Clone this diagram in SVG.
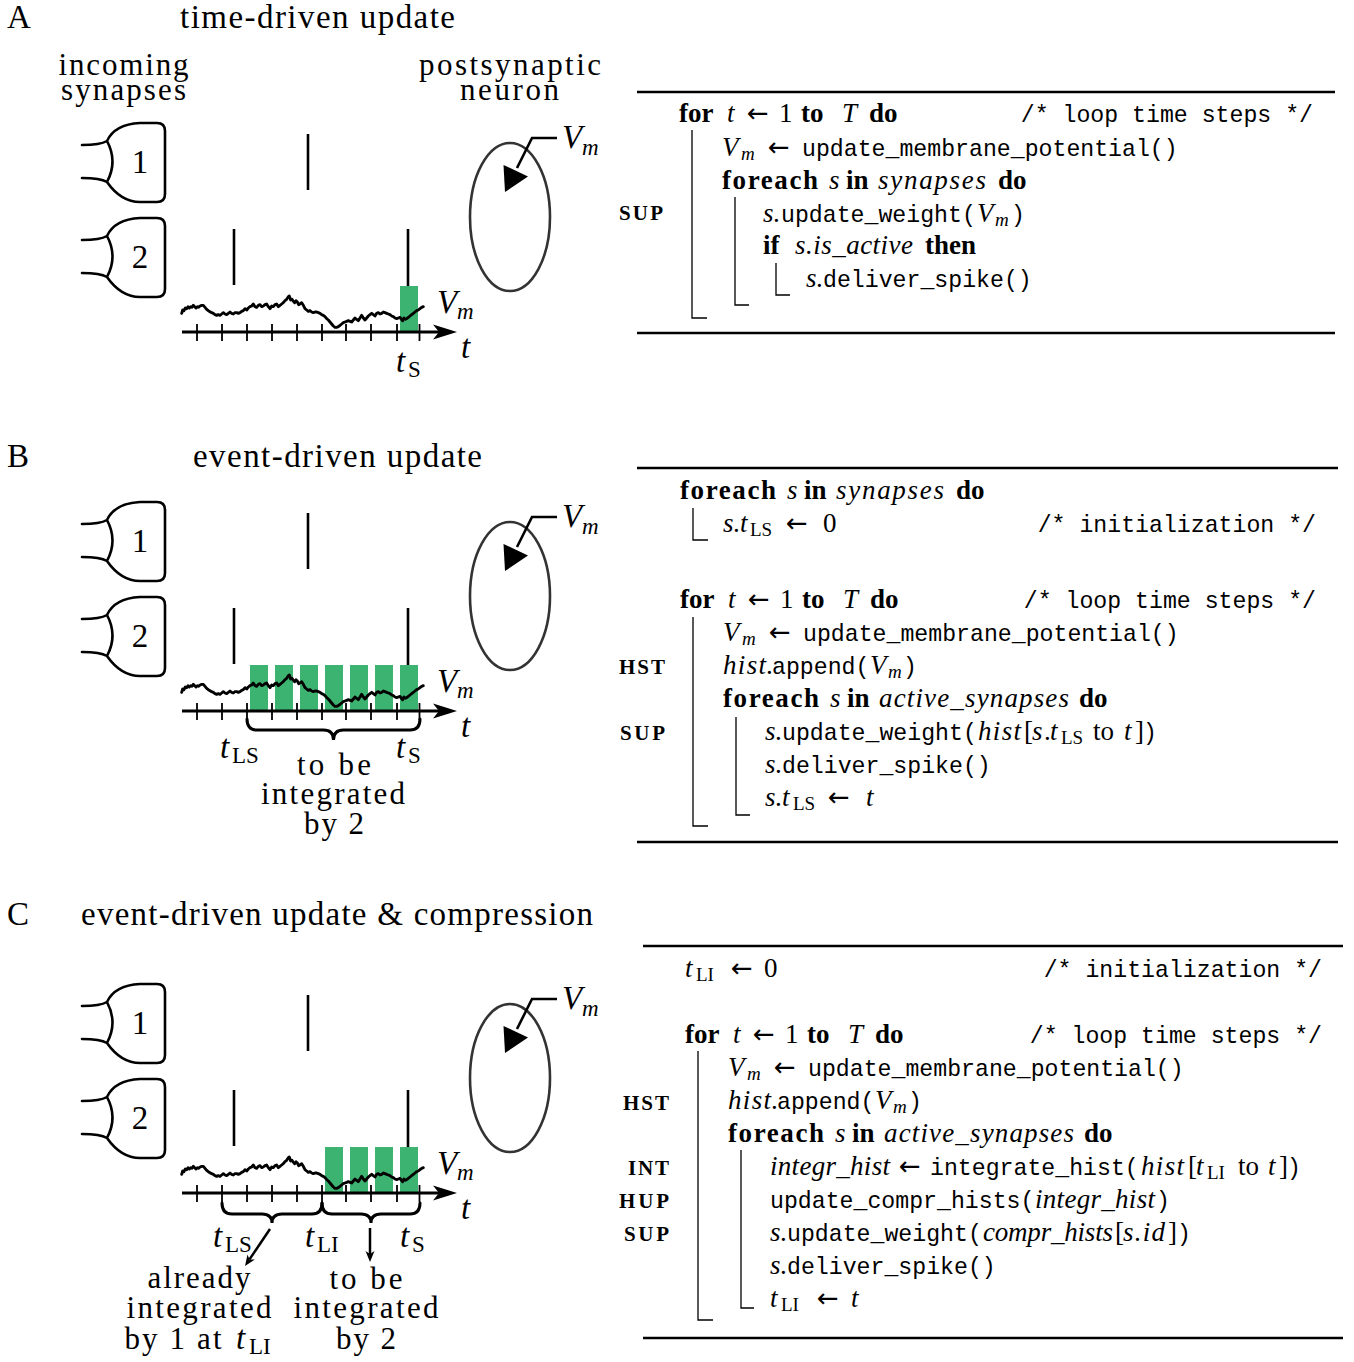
<svg xmlns="http://www.w3.org/2000/svg" xmlns:xlink="http://www.w3.org/1999/xlink" width="1354" height="1362" viewBox="0 0 1354 1362">
<style>
.s{fill:none;stroke:#000;stroke-width:2.6;stroke-linejoin:round;stroke-linecap:round}
.spk{stroke:#000;stroke-width:2.6}
.ax{stroke:#000;stroke-width:3}
.tk{fill:none;stroke:#000;stroke-width:1.8}
.bar{fill:#3cb371}
.tr{fill:none;stroke:#000;stroke-width:8.5;stroke-linejoin:round;stroke-linecap:round}
.cell{fill:none;stroke:#333;stroke-width:2.6}
.br{fill:none;stroke:#000;stroke-width:3;stroke-linecap:round}
.L{font-family:"Liberation Serif","DejaVu Serif",serif;font-size:33px;fill:#000}
.M{font-size:31px}
.i{font-style:italic}
.sb{font-size:23px}
.al{font-family:"Liberation Serif","DejaVu Serif",serif;font-size:27px;fill:#000}
.b{font-weight:bold}
.as{font-size:19px}
.ar{font-family:"DejaVu Sans",sans-serif;font-size:26px;font-style:normal;font-weight:normal}
.tt{font-family:"Liberation Mono","DejaVu Sans Mono",monospace;font-size:23.2px;font-style:normal;font-weight:normal}
.sc{font-family:"Liberation Serif","DejaVu Serif",serif;font-weight:bold;font-size:21px}
.rule{stroke:#000;stroke-width:2.4}
.bl{fill:none;stroke:#000;stroke-width:1.3}
</style>
<defs>
<path id="synp" d="M0,22 C10,22 20,21 25,18 C30,7 40,1 58,0 L75,0 Q83,0 83,8 L83,71 Q83,79 75,79 L58,79 C42,79 32,69 25,59 C20,56 10,55 0,55 M25,18 Q36,38.5 25,59"/>
<path id="trace" d="M35,100 L38,90 42,92 46,84 50,86 54,80 58,84 62,80 66,82 70,76 74,80 78,84 82,80 86,82 90,78 95,76 100,76 105,82 110,88 115,92 120,95 125,98 130,100 135,104 140,106 145,104 150,106 155,102 160,98 165,102 170,104 175,100 180,96 185,100 190,102 195,98 200,98 205,100 210,98 215,94 220,92 225,86 230,90 235,84 240,80 245,78 250,72 255,80 260,82 265,76 270,74 275,80 280,78 285,74 290,72 295,80 300,86 305,78 310,80 315,74 320,72 325,80 330,76 335,72 340,68 345,62 350,58 355,50 358,48 362,60 366,58 370,64 374,68 378,62 382,66 386,74 390,72 395,68 400,76 405,86 410,90 415,94 420,92 425,96 430,98 435,96 440,96 445,98 450,100 455,104 460,106 465,110 470,116 475,120 480,126 485,132 490,138 495,142 500,142 505,140 510,136 515,132 520,128 525,126 530,124 535,122 540,124 545,126 550,120 555,114 560,118 565,122 570,114 575,106 580,114 585,120 590,114 595,108 600,104 605,100 610,104 615,108 620,100 625,98 630,102 635,100 640,96 645,98 650,100 655,102 660,104 665,108 670,110 675,114 680,116 685,114 690,112 694,118 698,122 702,114 706,118 710,116 715,112 720,108 725,104 730,100 735,96 740,92 745,90 750,86 755,82 760,80"/>
<g id="left">
  <g id="syn1"><use xlink:href="#synp" href="#synp" class="s" transform="translate(82,123)"/><text class="L" x="140" y="173" text-anchor="middle">1</text></g>
  <g id="syn2"><use xlink:href="#synp" href="#synp" class="s" transform="translate(82,218)"/><text class="L" x="140" y="268" text-anchor="middle">2</text></g>
  <g id="spikes">
    <line class="spk" x1="308" y1="134" x2="308" y2="190"/>
    <line class="spk" x1="234" y1="229" x2="234" y2="285"/>
    <line class="spk" x1="408" y1="229" x2="408" y2="286"/>
  </g>
  <g id="trace-axis">
    <use xlink:href="#trace" href="#trace" class="tr" transform="translate(170,280) scale(0.33333)"/>
    <line class="ax" x1="182" y1="332" x2="440" y2="332"/>
    <path d="M457,332 L433,324.5 L439,332 L433,339.5 Z" fill="#000"/>
    <path class="tk" d="M197,324V341M222,324V341M247,324V341M272,324V341M297,324V341M322,324V341M346,324V341M371,324V341M397,324V341M419.5,324V341"/>
    <text class="L i" x="437" y="313">V</text><text class="L i sb" x="457" y="319">m</text>
    <text class="L i" x="461" y="358">t</text>
  </g>
  <g id="neuron">
    <ellipse class="cell" cx="510" cy="217" rx="40" ry="74"/>
    <polyline fill="none" stroke="#000" stroke-width="2.6" points="557,138 532,138 517,168"/>
    <polygon points="505,192 503.5,165 528,176.5" fill="#000"/>
    <text class="L i" x="562" y="148">V</text><text class="L i sb" x="582" y="155">m</text>
  </g>
</g>
</defs>

<!-- ================= Panel A ================= -->
<g id="panelA">
  <text class="L" x="7" y="28">A</text>
  <text class="L" x="180" y="28" textLength="275">time-driven update</text>
  <text class="L M" x="123.5" y="75" text-anchor="middle" textLength="130">incoming</text>
  <text class="L M" x="123.5" y="100" text-anchor="middle" textLength="125">synapses</text>
  <text class="L M" x="510" y="75" text-anchor="middle" textLength="182">postsynaptic</text>
  <text class="L M" x="509.5" y="100" text-anchor="middle" textLength="99">neuron</text>
  <rect class="bar" x="400" y="286" width="18" height="46"/>
  <use xlink:href="#left" href="#left"/>
  <text class="L i" x="396" y="372">t</text><text class="L sb" x="408" y="377">S</text>
</g>

<g id="algoA">
  <line class="rule" x1="637" y1="92" x2="1335" y2="92"/>
  <line class="rule" x1="637" y1="333" x2="1335" y2="333"/>
  <path class="bl" d="M692,130V318H707M735,197V305H749M776,263V295H790"/>
  <text class="sc" x="663" y="220" text-anchor="end" textLength="44">SUP</text>
  <text class="al" y="122"><tspan x="679" class="b">for</tspan><tspan x="727" class="i">t</tspan><tspan x="747" class="ar">←</tspan><tspan x="779">1</tspan><tspan x="801" class="b">to</tspan><tspan x="842" class="i">T</tspan><tspan x="869" class="b">do</tspan></text>
  <text class="tt" x="1313" y="122" text-anchor="end">/* loop time steps */</text>
  <text class="al" y="156"><tspan x="722" class="i">V</tspan><tspan x="741" y="160" class="i as">m</tspan><tspan x="768" y="156" class="ar">←</tspan><tspan x="802" class="tt">update_membrane_potential()</tspan></text>
  <text class="al" y="189"><tspan x="722" class="b" textLength="96">foreach</tspan><tspan x="829" class="i">s</tspan><tspan x="846" class="b">in</tspan><tspan x="878" class="i" textLength="108">synapses</tspan><tspan x="998" class="b">do</tspan></text>
  <text class="al" y="222"><tspan x="763" class="i">s</tspan><tspan x="773">.</tspan><tspan x="781" class="tt">update_weight(</tspan><tspan x="977" class="i">V</tspan><tspan x="995" y="226" class="i as">m</tspan><tspan x="1011" y="222" class="tt">)</tspan></text>
  <text class="al" y="254"><tspan x="763" class="b">if</tspan><tspan x="795" class="i" textLength="118">s.is_active</tspan><tspan x="925" class="b">then</tspan></text>
  <text class="al" y="287"><tspan x="806" class="i">s</tspan><tspan x="816">.</tspan><tspan x="823" class="tt">deliver_spike()</tspan></text>
</g>

<!-- ================= Panel B ================= -->
<g id="panelB">
  <text class="L" x="7" y="467">B</text>
  <text class="L" x="193" y="467" textLength="289">event-driven update</text>
  <g id="barsB">
    <rect class="bar" x="250" y="665" width="18" height="46"/>
    <rect class="bar" x="275" y="665" width="18" height="46"/>
    <rect class="bar" x="300" y="665" width="18" height="46"/>
    <rect class="bar" x="325" y="665" width="18" height="46"/>
    <rect class="bar" x="350" y="665" width="18" height="46"/>
    <rect class="bar" x="375" y="665" width="18" height="46"/>
    <rect class="bar" x="400" y="665" width="18" height="46"/>
  </g>
  <use xlink:href="#left" href="#left" transform="translate(0,379)"/>
  <path class="br" d="M247,719 Q247,730 257,730 L323.5,730 Q333.5,730 333.5,740 Q333.5,730 343.5,730 L410,730 Q420,730 420,719"/>
  <text class="L i" x="220" y="758">t</text><text class="L sb" x="232" y="763">LS</text>
  <text class="L i" x="396" y="758">t</text><text class="L sb" x="408" y="763">S</text>
  <text class="L M" x="334" y="775" text-anchor="middle" textLength="74">to be</text>
  <text class="L M" x="333" y="804" text-anchor="middle" textLength="144">integrated</text>
  <text class="L M" x="334" y="834" text-anchor="middle" textLength="60">by 2</text>
</g>

<g id="algoB">
  <line class="rule" x1="637" y1="468" x2="1338" y2="468"/>
  <line class="rule" x1="637" y1="842" x2="1338" y2="842"/>
  <path class="bl" d="M693,508V540H708M693,617V826H708M736,717V815H750"/>
  <text class="sc" x="665" y="674" text-anchor="end" textLength="46">HST</text>
  <text class="sc" x="665" y="740" text-anchor="end" textLength="45">SUP</text>
  <text class="al" y="499"><tspan x="680" class="b" textLength="96">foreach</tspan><tspan x="787" class="i">s</tspan><tspan x="804" class="b">in</tspan><tspan x="836" class="i" textLength="108">synapses</tspan><tspan x="956" class="b">do</tspan></text>
  <text class="al" y="532"><tspan x="723" class="i">s</tspan><tspan x="733">.</tspan><tspan x="740" class="i">t</tspan><tspan x="750" y="536" class="as">LS</tspan><tspan x="786" y="532" class="ar">←</tspan><tspan x="823">0</tspan></text>
  <text class="tt" x="1316" y="532" text-anchor="end">/* initialization */</text>
  <text class="al" y="608"><tspan x="680" class="b">for</tspan><tspan x="728" class="i">t</tspan><tspan x="748" class="ar">←</tspan><tspan x="780">1</tspan><tspan x="802" class="b">to</tspan><tspan x="843" class="i">T</tspan><tspan x="870" class="b">do</tspan></text>
  <text class="tt" x="1316" y="608" text-anchor="end">/* loop time steps */</text>
  <text class="al" y="641"><tspan x="723" class="i">V</tspan><tspan x="742" y="645" class="i as">m</tspan><tspan x="769" y="641" class="ar">←</tspan><tspan x="803" class="tt">update_membrane_potential()</tspan></text>
  <text class="al" y="674"><tspan x="723" class="i" textLength="43">hist</tspan><tspan x="766">.</tspan><tspan x="772" class="tt">append(</tspan><tspan x="870" class="i">V</tspan><tspan x="888" y="678" class="i as">m</tspan><tspan x="903" y="674" class="tt">)</tspan></text>
  <text class="al" y="707"><tspan x="723" class="b" textLength="96">foreach</tspan><tspan x="830" class="i">s</tspan><tspan x="847" class="b">in</tspan><tspan x="879" class="i" textLength="190">active_synapses</tspan><tspan x="1079" class="b">do</tspan></text>
  <text class="al" y="740"><tspan x="765" class="i">s</tspan><tspan x="775">.</tspan><tspan x="782" class="tt">update_weight(</tspan><tspan x="978" class="i" textLength="43">hist</tspan><tspan x="1024">[</tspan><tspan x="1032" class="i">s</tspan><tspan x="1044">.</tspan><tspan x="1050" class="i">t</tspan><tspan x="1061" y="744" class="as">LS</tspan><tspan x="1093" y="740">to</tspan><tspan x="1124" class="i">t</tspan><tspan x="1135">]</tspan><tspan x="1143" class="tt">)</tspan></text>
  <text class="al" y="773"><tspan x="765" class="i">s</tspan><tspan x="775">.</tspan><tspan x="782" class="tt">deliver_spike()</tspan></text>
  <text class="al" y="806"><tspan x="765" class="i">s</tspan><tspan x="775">.</tspan><tspan x="782" class="i">t</tspan><tspan x="793" y="810" class="as">LS</tspan><tspan x="828" y="806" class="ar">←</tspan><tspan x="866" class="i">t</tspan></text>
</g>

<!-- ================= Panel C ================= -->
<g id="panelC">
  <text class="L" x="7" y="925">C</text>
  <text class="L" x="81" y="925" textLength="512">event-driven update &amp; compression</text>
  <g id="barsC">
    <rect class="bar" x="325" y="1147" width="18" height="46"/>
    <rect class="bar" x="350" y="1147" width="18" height="46"/>
    <rect class="bar" x="375" y="1147" width="18" height="46"/>
    <rect class="bar" x="400" y="1147" width="18" height="46"/>
  </g>
  <use xlink:href="#left" href="#left" transform="translate(0,861)"/>
  <path class="br" d="M222,1203 Q222,1214 232,1214 L262,1214 Q272,1214 272,1223 Q272,1214 282,1214 L312,1214 Q322,1214 322,1203"/>
  <path class="br" d="M322,1203 Q322,1214 332,1214 L361,1214 Q371,1214 371,1223 Q371,1214 381,1214 L410,1214 Q420,1214 420,1203"/>
  <g id="arrowsC">
    <line x1="270" y1="1229" x2="249.5" y2="1259.4" stroke="#000" stroke-width="2.5"/>
    <polygon points="245,1266 247.5,1254.4 249.5,1259.4 254.9,1259.4" fill="#000"/>
    <line x1="370" y1="1228" x2="370" y2="1254" stroke="#000" stroke-width="2.5"/>
    <polygon points="370,1262 365.5,1251 370,1254 374.5,1251" fill="#000"/>
  </g>
  <text class="L i" x="213" y="1247">t</text><text class="L sb" x="225" y="1252">LS</text>
  <text class="L i" x="305" y="1247">t</text><text class="L sb" x="317" y="1252">LI</text>
  <text class="L i" x="400" y="1247">t</text><text class="L sb" x="412" y="1252">S</text>
  <text class="L M" x="199" y="1288" text-anchor="middle" textLength="103">already</text>
  <text class="L M" x="199" y="1318" text-anchor="middle" textLength="145">integrated</text>
  <text class="L M" x="124.5" y="1349" textLength="97">by 1 at</text><text class="L i" x="236" y="1349">t</text><text class="L sb" x="249" y="1354">LI</text>
  <text class="L M" x="366" y="1289" text-anchor="middle" textLength="73">to be</text>
  <text class="L M" x="366" y="1318" text-anchor="middle" textLength="145">integrated</text>
  <text class="L M" x="366" y="1349" text-anchor="middle" textLength="60">by 2</text>
</g>

<g id="algoC">
  <line class="rule" x1="643" y1="946" x2="1343" y2="946"/>
  <line class="rule" x1="643" y1="1338" x2="1343" y2="1338"/>
  <path class="bl" d="M698,1051V1320H713M741,1150V1308H754"/>
  <text class="sc" x="669" y="1110" text-anchor="end" textLength="46">HST</text>
  <text class="sc" x="669" y="1175" text-anchor="end" textLength="41">INT</text>
  <text class="sc" x="669" y="1208" text-anchor="end" textLength="50">HUP</text>
  <text class="sc" x="669" y="1241" text-anchor="end" textLength="45">SUP</text>
  <text class="al" y="977"><tspan x="685" class="i">t</tspan><tspan x="696" y="981" class="as">LI</tspan><tspan x="731" y="977" class="ar">←</tspan><tspan x="764">0</tspan></text>
  <text class="tt" x="1322" y="977" text-anchor="end">/* initialization */</text>
  <text class="al" y="1043"><tspan x="685" class="b">for</tspan><tspan x="733" class="i">t</tspan><tspan x="753" class="ar">←</tspan><tspan x="785">1</tspan><tspan x="807" class="b">to</tspan><tspan x="848" class="i">T</tspan><tspan x="875" class="b">do</tspan></text>
  <text class="tt" x="1322" y="1043" text-anchor="end">/* loop time steps */</text>
  <text class="al" y="1076"><tspan x="728" class="i">V</tspan><tspan x="747" y="1080" class="i as">m</tspan><tspan x="774" y="1076" class="ar">←</tspan><tspan x="808" class="tt">update_membrane_potential()</tspan></text>
  <text class="al" y="1109"><tspan x="728" class="i" textLength="43">hist</tspan><tspan x="771">.</tspan><tspan x="777" class="tt">append(</tspan><tspan x="875" class="i">V</tspan><tspan x="893" y="1113" class="i as">m</tspan><tspan x="908" y="1109" class="tt">)</tspan></text>
  <text class="al" y="1142"><tspan x="728" class="b" textLength="96">foreach</tspan><tspan x="835" class="i">s</tspan><tspan x="852" class="b">in</tspan><tspan x="884" class="i" textLength="190">active_synapses</tspan><tspan x="1084" class="b">do</tspan></text>
  <text class="al" y="1175"><tspan x="770" class="i" textLength="120">integr_hist</tspan><tspan x="899" class="ar">←</tspan><tspan x="930" class="tt">integrate_hist(</tspan><tspan x="1141" class="i" textLength="43">hist</tspan><tspan x="1188">[</tspan><tspan x="1196" class="i">t</tspan><tspan x="1207" y="1179" class="as">LI</tspan><tspan x="1238" y="1175">to</tspan><tspan x="1268" class="i">t</tspan><tspan x="1279">]</tspan><tspan x="1287" class="tt">)</tspan></text>
  <text class="al" y="1208"><tspan x="770" class="tt">update_compr_hists(</tspan><tspan x="1035" class="i" textLength="120">integr_hist</tspan><tspan x="1156" class="tt">)</tspan></text>
  <text class="al" y="1241"><tspan x="770" class="i">s</tspan><tspan x="780">.</tspan><tspan x="787" class="tt">update_weight(</tspan><tspan x="983" class="i" textLength="130">compr_hists</tspan><tspan x="1115">[</tspan><tspan x="1123" class="i" textLength="42">s.id</tspan><tspan x="1168">]</tspan><tspan x="1177" class="tt">)</tspan></text>
  <text class="al" y="1274"><tspan x="770" class="i">s</tspan><tspan x="780">.</tspan><tspan x="787" class="tt">deliver_spike()</tspan></text>
  <text class="al" y="1307"><tspan x="770" class="i">t</tspan><tspan x="781" y="1311" class="as">LI</tspan><tspan x="817" y="1307" class="ar">←</tspan><tspan x="851" class="i">t</tspan></text>
</g>
</svg>
